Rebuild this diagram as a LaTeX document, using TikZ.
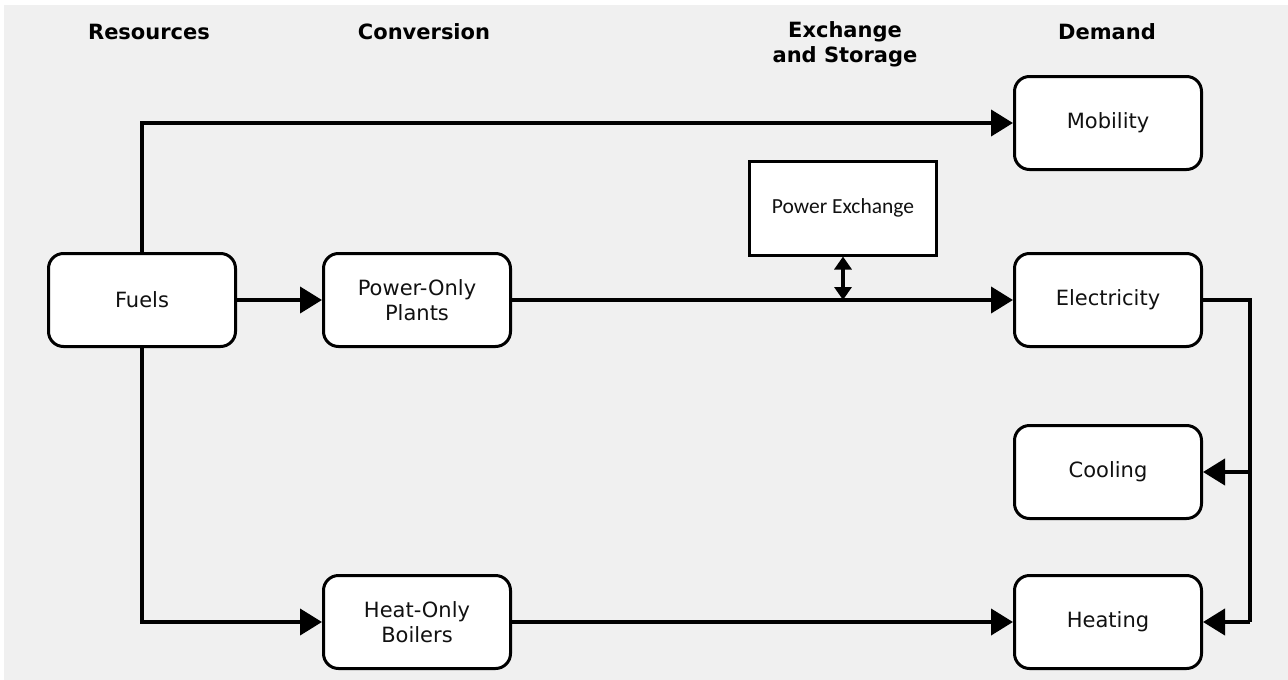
\documentclass[tikz,border=0pt]{standalone}
\usepackage{fontspec}
\setmainfont{DejaVu Sans}
\newfontfamily\calfont{Carlito}
\usetikzlibrary{arrows.meta}
\definecolor{bgc}{HTML}{F0F0F0}
\definecolor{txt}{HTML}{111111}
\tikzset{
  box/.style={draw=black, fill=white, line width=3pt, rounded corners=15pt,
    minimum width=187pt, minimum height=93pt, inner sep=0pt, align=center,
    text=txt, font=\fontsize{21}{25}\selectfont},
  pebox/.style={draw=black, fill=white, line width=3pt,
    minimum width=187pt, minimum height=94pt, inner sep=0pt, align=center,
    text=txt, font=\calfont\fontsize{21.5}{25}\selectfont},
  hdr/.style={align=center, inner sep=0pt, text=black,
    font=\bfseries\fontsize{21}{25}\selectfont},
  conn/.style={line width=4pt, -{Triangle[length=22pt,width=26pt]}},
  plain/.style={line width=4pt},
  dbl/.style={line width=3.5pt, {Triangle[length=13pt,width=17pt]}-{Triangle[length=13pt,width=17pt]}}
}
\begin{document}
\begin{tikzpicture}[x=1pt,y=-1pt]
\useasboundingbox (0,0) rectangle (1288,680);
\fill[white] (0,0) rectangle (1288,680);
\fill[bgc] (4,5) rectangle (1288,680);

% headers
\node[hdr] (hres) at (149,32) {Resources};
\node[hdr] (hconv) at (424,32) {Conversion};
\node[hdr] (hex) at (845,44.5) {Exchange\\and Storage};
\node[hdr] (hdem) at (1107,32) {Demand};

% boxes
\node[box] (fuels) at (142,300) {Fuels};
\node[box] (power) at (417,300) {Power-Only\\Plants};
\node[box] (boil) at (417,622) {Heat-Only\\Boilers};
\node[box] (mob) at (1108,123) {Mobility};
\node[box] (elec) at (1108,300) {Electricity};
\node[box] (cool) at (1108,472) {Cooling};
\node[box] (heat) at (1108,622) {Heating};
\node[pebox] (pex) at (843,208) {Power Exchange};

% junction coordinates
\coordinate (pj) at (843,300);
\coordinate (rtop) at (1250,300);
\coordinate (rcool) at (1250,472);
\coordinate (rheat) at (1250,622);

% connectors
\draw[conn] (fuels.north) |- (mob.west);
\draw[conn] (fuels.east) -- (power.west);
\draw[conn] (fuels.south) |- (boil.west);
\draw[conn] (power.east) -- (elec.west);
\draw[conn] (boil.east) -- (heat.west);
\draw[plain, line join=miter] (elec.east) -- (rtop) -- (rheat);
\draw[conn] (rheat) -- (heat.east);
\draw[conn] (rcool) -- (cool.east);
\draw[dbl] (pex.south) -- (pj);
\end{tikzpicture}
\end{document}
